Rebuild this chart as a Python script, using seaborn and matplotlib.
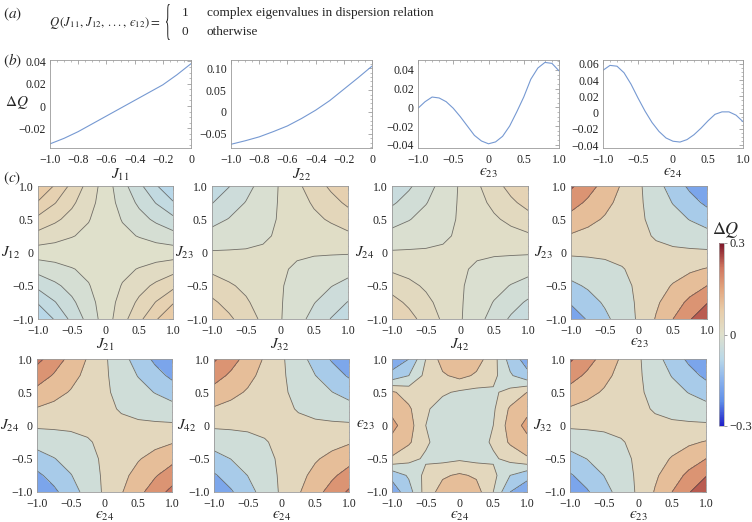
import matplotlib
matplotlib.use('Agg')
import matplotlib.pyplot as plt
import pandas as pd
import seaborn as sns
from matplotlib.colors import LinearSegmentedColormap, Normalize
from matplotlib.cm import ScalarMappable
from matplotlib.ticker import MultipleLocator, FuncFormatter
from matplotlib.textpath import TextPath
from matplotlib.patches import PathPatch
from matplotlib.font_manager import FontProperties
from matplotlib.transforms import Affine2D, IdentityTransform

# ---- panel (b): 1D sensitivity curves ----
j11 = [-1.0, -0.9, -0.8, -0.7, -0.6, -0.5, -0.4, -0.3, -0.2, -0.1, 0.0]
dq_j11 = [-0.034, -0.029, -0.023, -0.016, -0.009, -0.002, 0.005, 0.012, 0.019, 0.028, 0.038]
j22 = [-1.0, -0.9, -0.8, -0.7, -0.6, -0.5, -0.4, -0.3, -0.2, -0.1, 0.0]
dq_j22 = [-0.074, -0.066, -0.057, -0.045, -0.032, -0.015, 0.004, 0.026, 0.052, 0.078, 0.105]
eps = [-1.0, -0.9, -0.8, -0.7, -0.6, -0.5, -0.4, -0.3, -0.2, -0.1, 0.0,
       0.1, 0.2, 0.3, 0.4, 0.5, 0.6, 0.7, 0.8, 0.9, 1.0]
dq_e23 = [-0.001, 0.006, 0.011, 0.010, 0.006, -0.001, -0.010, -0.020, -0.030, -0.036, -0.039,
          -0.037, -0.031, -0.020, -0.005, 0.011, 0.030, 0.042, 0.048, 0.047, 0.039]
dq_e24 = [0.052, 0.058, 0.057, 0.049, 0.035, 0.018, 0.002, -0.012, -0.023, -0.031, -0.035,
          -0.036, -0.033, -0.027, -0.019, -0.010, -0.002, 0.001, 0.001, -0.003, -0.011]

# ---- panel (c): 2D grids, rows from y=-1 (bottom) to y=1 (top) ----
grid = [-1.0, -0.75, -0.5, -0.25, 0.0, 0.25, 0.5, 0.75, 1.0]

z_j12_j21 = [
    [-0.090, -0.068, -0.045, -0.023, 0.000, 0.023, 0.045, 0.068, 0.090],
    [-0.068, -0.051, -0.034, -0.017, 0.000, 0.017, 0.034, 0.051, 0.068],
    [-0.045, -0.034, -0.023, -0.011, 0.000, 0.011, 0.023, 0.034, 0.045],
    [-0.023, -0.017, -0.011, -0.006, 0.000, 0.006, 0.011, 0.017, 0.023],
    [0.000, 0.000, 0.000, 0.000, 0.000, 0.000, 0.000, 0.000, 0.000],
    [0.023, 0.017, 0.011, 0.006, 0.000, -0.006, -0.011, -0.017, -0.023],
    [0.045, 0.034, 0.023, 0.011, 0.000, -0.011, -0.023, -0.034, -0.045],
    [0.068, 0.051, 0.034, 0.017, 0.000, -0.017, -0.034, -0.051, -0.068],
    [0.090, 0.068, 0.045, 0.023, 0.000, -0.023, -0.045, -0.068, -0.090],
]
z_j23_j32 = [
    [0.072, 0.055, 0.037, 0.020, 0.002, -0.016, -0.033, -0.051, -0.068],
    [0.055, 0.041, 0.028, 0.015, 0.002, -0.011, -0.024, -0.037, -0.051],
    [0.037, 0.028, 0.020, 0.011, 0.002, -0.007, -0.016, -0.024, -0.033],
    [0.020, 0.015, 0.011, 0.006, 0.002, -0.002, -0.007, -0.011, -0.016],
    [0.002, 0.002, 0.002, 0.002, 0.002, 0.002, 0.002, 0.002, 0.002],
    [-0.016, -0.011, -0.007, -0.002, 0.002, 0.006, 0.011, 0.015, 0.020],
    [-0.033, -0.024, -0.016, -0.007, 0.002, 0.011, 0.020, 0.028, 0.037],
    [-0.051, -0.037, -0.024, -0.011, 0.002, 0.015, 0.028, 0.041, 0.055],
    [-0.068, -0.051, -0.033, -0.016, 0.002, 0.020, 0.037, 0.055, 0.072],
]
z_j24_j42 = [
    [0.062, 0.047, 0.032, 0.017, 0.002, -0.013, -0.028, -0.043, -0.058],
    [0.047, 0.036, 0.025, 0.013, 0.002, -0.009, -0.021, -0.032, -0.043],
    [0.032, 0.025, 0.017, 0.010, 0.002, -0.006, -0.013, -0.021, -0.028],
    [0.017, 0.013, 0.010, 0.006, 0.002, -0.002, -0.006, -0.009, -0.013],
    [0.002, 0.002, 0.002, 0.002, 0.002, 0.002, 0.002, 0.002, 0.002],
    [-0.013, -0.009, -0.006, -0.002, 0.002, 0.006, 0.010, 0.013, 0.017],
    [-0.028, -0.021, -0.013, -0.006, 0.002, 0.010, 0.017, 0.025, 0.032],
    [-0.043, -0.032, -0.021, -0.009, 0.002, 0.013, 0.025, 0.036, 0.047],
    [-0.058, -0.043, -0.028, -0.013, 0.002, 0.017, 0.032, 0.047, 0.062],
]
z_j23_e23 = [
    [-0.180, -0.133, -0.085, -0.038, 0.010, 0.075, 0.140, 0.205, 0.270],
    [-0.133, -0.097, -0.061, -0.026, 0.010, 0.059, 0.108, 0.156, 0.205],
    [-0.085, -0.061, -0.038, -0.014, 0.010, 0.043, 0.075, 0.108, 0.140],
    [-0.038, -0.026, -0.014, -0.002, 0.010, 0.026, 0.043, 0.059, 0.075],
    [0.010, 0.010, 0.010, 0.010, 0.010, 0.010, 0.010, 0.010, 0.010],
    [0.063, 0.049, 0.036, 0.023, 0.010, -0.004, -0.018, -0.031, -0.045],
    [0.115, 0.089, 0.063, 0.036, 0.010, -0.018, -0.045, -0.073, -0.100],
    [0.168, 0.128, 0.089, 0.049, 0.010, -0.031, -0.073, -0.114, -0.155],
    [0.220, 0.168, 0.115, 0.063, 0.010, -0.045, -0.100, -0.155, -0.210],
]
z_j24_e24 = [
    [-0.210, -0.155, -0.100, -0.045, 0.010, 0.065, 0.120, 0.175, 0.230],
    [-0.155, -0.114, -0.073, -0.031, 0.010, 0.051, 0.093, 0.134, 0.175],
    [-0.100, -0.073, -0.045, -0.018, 0.010, 0.038, 0.065, 0.093, 0.120],
    [-0.045, -0.031, -0.018, -0.004, 0.010, 0.024, 0.038, 0.051, 0.065],
    [0.010, 0.010, 0.010, 0.010, 0.010, 0.010, 0.010, 0.010, 0.010],
    [0.065, 0.051, 0.038, 0.024, 0.010, -0.004, -0.018, -0.031, -0.045],
    [0.120, 0.093, 0.065, 0.038, 0.010, -0.018, -0.045, -0.073, -0.100],
    [0.175, 0.134, 0.093, 0.051, 0.010, -0.031, -0.073, -0.114, -0.155],
    [0.230, 0.175, 0.120, 0.065, 0.010, -0.045, -0.100, -0.155, -0.210],
]
z_j42_e24 = [
    [-0.200, -0.148, -0.095, -0.043, 0.010, 0.063, 0.115, 0.168, 0.220],
    [-0.148, -0.108, -0.069, -0.029, 0.010, 0.049, 0.089, 0.128, 0.168],
    [-0.095, -0.069, -0.043, -0.016, 0.010, 0.036, 0.063, 0.089, 0.115],
    [-0.043, -0.029, -0.016, -0.003, 0.010, 0.023, 0.036, 0.049, 0.063],
    [0.010, 0.010, 0.010, 0.010, 0.010, 0.010, 0.010, 0.010, 0.010],
    [0.063, 0.049, 0.036, 0.023, 0.010, -0.003, -0.016, -0.029, -0.043],
    [0.115, 0.089, 0.063, 0.036, 0.010, -0.016, -0.043, -0.069, -0.095],
    [0.168, 0.128, 0.089, 0.049, 0.010, -0.029, -0.069, -0.108, -0.148],
    [0.220, 0.168, 0.115, 0.063, 0.010, -0.043, -0.095, -0.148, -0.200],
]
z_e23_e24 = [
    [-0.180, -0.100, 0.030, 0.100, 0.120, 0.100, 0.000, -0.140, -0.180],
    [-0.120, -0.060, 0.020, 0.060, 0.080, 0.060, 0.020, -0.070, -0.120],
    [0.060, 0.020, -0.010, -0.020, -0.010, -0.020, -0.010, 0.020, 0.060],
    [0.120, 0.080, 0.010, -0.030, -0.035, -0.030, 0.010, 0.080, 0.120],
    [0.160, 0.100, 0.000, -0.040, -0.040, -0.040, 0.000, 0.100, 0.160],
    [0.120, 0.080, 0.010, -0.030, -0.035, -0.030, -0.010, 0.080, 0.120],
    [0.080, 0.040, 0.010, 0.010, -0.010, -0.020, -0.010, 0.020, 0.070],
    [-0.120, -0.070, 0.020, 0.060, 0.090, 0.060, 0.020, -0.060, -0.120],
    [-0.180, -0.140, 0.000, 0.100, 0.120, 0.100, 0.030, -0.100, -0.170],
]
z_j32_e23 = [
    [-0.200, -0.148, -0.095, -0.043, 0.010, 0.075, 0.140, 0.205, 0.270],
    [-0.148, -0.108, -0.069, -0.029, 0.010, 0.059, 0.108, 0.156, 0.205],
    [-0.095, -0.069, -0.043, -0.016, 0.010, 0.043, 0.075, 0.108, 0.140],
    [-0.043, -0.029, -0.016, -0.003, 0.010, 0.026, 0.043, 0.059, 0.075],
    [0.010, 0.010, 0.010, 0.010, 0.010, 0.010, 0.010, 0.010, 0.010],
    [0.063, 0.049, 0.036, 0.023, 0.010, -0.004, -0.018, -0.031, -0.045],
    [0.115, 0.089, 0.063, 0.036, 0.010, -0.018, -0.045, -0.073, -0.100],
    [0.168, 0.128, 0.089, 0.049, 0.010, -0.031, -0.073, -0.114, -0.155],
    [0.220, 0.168, 0.115, 0.063, 0.010, -0.045, -0.100, -0.155, -0.210],
]

lv_fine = [-0.07, -0.05, -0.03, -0.01, 0.01, 0.03, 0.05, 0.07]
lv_mid = [-0.05, -0.025, 0.0, 0.025, 0.05]
lv_low = [-0.04, -0.02, 0.0, 0.02, 0.04]
lv_big = [-0.21, -0.14, -0.07, 0.0, 0.07, 0.14, 0.21]

sns.set_style('white')
plt.rcParams['font.family'] = ['Liberation Serif', 'DejaVu Serif']
plt.rcParams['mathtext.fontset'] = 'stix'

cmap = LinearSegmentedColormap.from_list('thermo', [
    (0.000, '#1e1ec8'), (0.133, '#5f8ee8'), (0.250, '#8ab2ec'), (0.367, '#b9d8e8'),
    (0.500, '#dfe0cc'), (0.633, '#e8cca8'), (0.750, '#e2a57e'), (0.867, '#cf7660'),
    (1.000, '#7d1428')])
norm = Normalize(-0.3, 0.3)

W, H = 752, 522
fig = plt.figure(figsize=(W / 100, H / 100), dpi=100)

EPS = '\u03f5'


def box(l, t, r, b):
    return fig.add_axes([l / W, 1 - b / H, (r - l) / W, (b - t) / H])


def fmt(dec):
    def f(v, pos):
        if abs(v) < 1e-9:
            return '0'
        return ('%.*f' % (dec, v)).replace('-', '\u2212')
    return FuncFormatter(f)


def frame(ax, xmaj, xmin, ymaj, ymin, xdec, ydec):
    ax.xaxis.set_major_locator(MultipleLocator(xmaj))
    ax.xaxis.set_minor_locator(MultipleLocator(xmin))
    ax.yaxis.set_major_locator(MultipleLocator(ymaj))
    ax.yaxis.set_minor_locator(MultipleLocator(ymin))
    ax.xaxis.set_major_formatter(fmt(xdec))
    ax.yaxis.set_major_formatter(fmt(ydec))
    ax.tick_params(which='both', direction='in', top=True, right=True,
                   color='#8a8a8a', labelcolor='#222222', labelsize=8.5)
    ax.tick_params(axis='x', pad=4)
    ax.tick_params(axis='y', pad=3)
    ax.tick_params(which='major', length=3, width=0.5)
    ax.tick_params(which='minor', length=1.6, width=0.4)
    for s in ax.spines.values():
        s.set_color('#9a9a9a')
        s.set_linewidth(0.6)


line_color = '#7699d2'
b_panels = [
    ((50, 60, 191, 148), j11, dq_j11, (-1, 0), (-0.0377, 0.0413), 0.2, 0.05, 0.02, 0.005, r'$J_{11}$'),
    ((231, 60, 372, 148), j22, dq_j22, (-1, 0), (-0.0825, 0.119), 0.2, 0.05, 0.05, 0.01, r'$J_{22}$'),
    ((418, 60, 559, 148), eps, dq_e23, (-1, 1), (-0.0435, 0.0506), 0.5, 0.1, 0.02, 0.005, '$' + EPS + '_{23}$'),
    ((603, 60, 743, 148), eps, dq_e24, (-1, 1), (-0.0433, 0.0646), 0.5, 0.1, 0.02, 0.005, '$' + EPS + '_{24}$'),
]
for rect, xs, ys, xl, yl, xmaj, xmin, ymaj, ymin, lab in b_panels:
    ax = box(*rect)
    df = pd.DataFrame({'x': xs, 'dq': ys})
    sns.lineplot(data=df, x='x', y='dq', ax=ax, color=line_color, lw=0.8)
    ax.set_xlim(*xl)
    ax.set_ylim(*yl)
    frame(ax, xmaj, xmin, ymaj, ymin, 1, 2)
    ax.set_xlabel(lab, fontsize=11, labelpad=1)
    ax.set_ylabel('')
    if lab == r'$J_{11}$':
        ax.set_ylabel(r'$\Delta Q$', fontsize=11, rotation=0, va='center', ha='center')
        ax.yaxis.set_label_coords(-0.235, 0.52)

c_panels = [
    ((38, 186, 173, 319), z_j12_j21, lv_fine, r'$J_{21}$', r'$J_{12}$'),
    ((212, 186, 348, 319), z_j23_j32, lv_mid, r'$J_{32}$', r'$J_{23}$'),
    ((392, 186, 528, 319), z_j24_j42, lv_low, r'$J_{42}$', r'$J_{24}$'),
    ((571, 186, 707, 319), z_j23_e23, lv_big, '$' + EPS + '_{23}$', r'$J_{23}$'),
    ((37, 359, 172, 492), z_j24_e24, lv_big, '$' + EPS + '_{24}$', r'$J_{24}$'),
    ((214, 359, 349, 492), z_j42_e24, lv_big, '$' + EPS + '_{24}$', r'$J_{42}$'),
    ((392, 359, 527, 492), z_e23_e24, lv_big, '$' + EPS + '_{24}$', '$' + EPS + '_{23}$'),
    ((570, 359, 706, 492), z_j32_e23, lv_big, '$' + EPS + '_{23}$', r'$J_{32}$'),
]
for rect, z, lv, xlab, ylab in c_panels:
    ax = box(*rect)
    zmin = min(min(r) for r in z)
    zmax = max(max(r) for r in z)
    bounds = [zmin] + [v for v in lv if zmin < v < zmax] + [zmax]
    ax.contourf(grid, grid, z, levels=bounds, cmap=cmap, norm=norm)
    ax.contour(grid, grid, z, levels=lv, colors='#4a4a4a', linewidths=0.6, alpha=0.75,
               negative_linestyles='solid')
    ax.set_xlim(-1, 1)
    ax.set_ylim(-1, 1)
    frame(ax, 0.5, 0.1, 0.5, 0.1, 1, 1)
    ax.set_xlabel(xlab, fontsize=11, labelpad=0)
    ax.set_ylabel(ylab, fontsize=11, rotation=0, va='center', ha='center')
    ax.yaxis.set_label_coords(-0.2, 0.5)

# colour bar
cax = box(719, 243, 724, 426)
cb = fig.colorbar(ScalarMappable(norm=norm, cmap=cmap), cax=cax, ticks=[-0.3, 0, 0.3])
cb.ax.set_yticklabels(['\u22120.3', '0', '0.3'])
cb.ax.tick_params(length=2, width=0.5, color='#777777', labelsize=9, pad=2)
cb.outline.set_edgecolor('#aaaaaa')
cb.outline.set_linewidth(0.5)
fig.text(726 / W, 1 - 230 / H, r'$\Delta Q$', fontsize=13, ha='center', va='center')

# panel letters and the definition of Q
fig.text(3 / W, 1 - 14 / H, r'$(a)$', fontsize=11, va='center')
fig.text(3 / W, 1 - 61 / H, r'$(b)$', fontsize=11, va='center')
fig.text(3 / W, 1 - 178 / H, r'$(c)$', fontsize=11, va='center')
fig.text(49 / W, 1 - 23 / H, '$Q\\,(J_{11},\\, J_{12},\\, ...,\\, ' + EPS + '_{12}) =$',
         fontsize=9.2, va='center')

# thin tall brace: a glyph outline stretched vertically
tp = TextPath((0, 0), '{', size=12, prop=FontProperties(family='Liberation Serif'))
ext = tp.get_extents()
sy = 36 / ext.height
brace_tf = Affine2D().translate(-ext.x0, -ext.y0).scale(1.0, sy).translate(166, H - 40)
fig.add_artist(PathPatch(brace_tf.transform_path(tp), facecolor='#222222', edgecolor='none',
                         transform=IdentityTransform()))

fig.text(182 / W, 1 - 13 / H, '1', fontsize=9.5, va='center')
fig.text(182 / W, 1 - 32 / H, '0', fontsize=9.5, va='center')
fig.text(207 / W, 1 - 13 / H, 'complex eigenvalues in dispersion relation', fontsize=9.5, va='center')
fig.text(207 / W, 1 - 32 / H, 'otherwise', fontsize=9.5, va='center')

fig.savefig('out.png', dpi=100)
